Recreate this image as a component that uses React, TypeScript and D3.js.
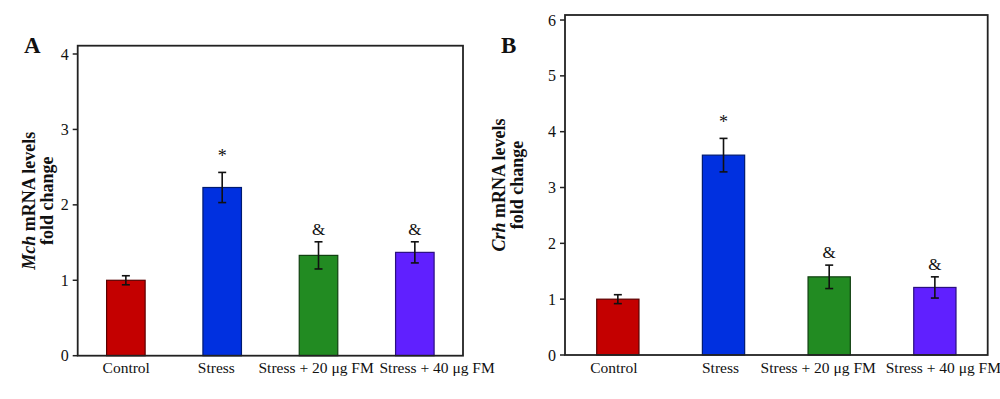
import React from "react";
import * as d3 from "d3";

const categories = ["Control", "Stress", "Stress + 20 μg FM", "Stress + 40 μg FM"];
const colors = ["#c40000", "#0030e0", "#228b22", "#6020ff"];
const strokeColors = ["#5a0000", "#001a70", "#0f3f0f", "#2a0f80"];

const mchValues = [1.0, 2.23, 1.33, 1.37];
const mchErrors = [0.06, 0.2, 0.18, 0.14];
const mchMarks = ["", "*", "&", "&"];
const mchTicks = [0, 1, 2, 3, 4];

const crhValues = [1.0, 3.58, 1.4, 1.21];
const crhErrors = [0.08, 0.3, 0.21, 0.19];
const crhMarks = ["", "*", "&", "&"];
const crhTicks = [0, 1, 2, 3, 4, 5, 6];

const FONT = "'Liberation Serif', 'Times New Roman', serif";

type PanelProps = {
  letter: string;
  letterX: number;
  gene: string;
  values: number[];
  errors: number[];
  marks: string[];
  ticks: number[];
  yMax: number;
  left: number;
  right: number;
  top: number;
  bottom: number;
  titleX: number;
  labelDx: number[];
};

function Panel(p: PanelProps) {
  const x = d3
    .scaleBand<string>()
    .domain(categories)
    .range([p.left, p.right])
    .paddingInner(0.6)
    .paddingOuter(0.3);
  const y = d3.scaleLinear().domain([0, p.yMax]).range([p.bottom, p.top]);
  const bw = x.bandwidth();
  const cy = (p.top + p.bottom) / 2;
  return (
    <g>
      <text x={p.letterX} y={53} fontFamily={FONT} fontWeight="bold" fontSize={23} fill="#111">
        {p.letter}
      </text>
      {/* axis title */}
      <g transform={`translate(${p.titleX},${cy}) rotate(-90)`}>
        <text textAnchor="middle" y={0} fontFamily={FONT} fontWeight="bold" fontSize={18} fill="#111">
          <tspan fontStyle="italic">{p.gene}</tspan>
          <tspan> mRNA levels</tspan>
        </text>
        <text textAnchor="middle" y={18} fontFamily={FONT} fontWeight="bold" fontSize={18} fill="#111">
          fold change
        </text>
      </g>
      {/* bars */}
      {categories.map((c, i) => {
        const x0 = x(c)!;
        const top = y(p.values[i]);
        return (
          <rect
            key={c}
            x={x0}
            y={top}
            width={bw}
            height={y(0) - top}
            fill={colors[i]}
            stroke={strokeColors[i]}
            strokeWidth={1.2}
          />
        );
      })}
      {/* error bars */}
      {categories.map((c, i) => {
        const cx = x(c)! + bw / 2;
        const hi = y(p.values[i] + p.errors[i]);
        const lo = y(p.values[i] - p.errors[i]);
        return (
          <g key={c} stroke="#111" strokeWidth={1.6}>
            <line x1={cx} x2={cx} y1={hi} y2={lo} />
            <line x1={cx - 4} x2={cx + 4} y1={hi} y2={hi} />
            <line x1={cx - 4} x2={cx + 4} y1={lo} y2={lo} />
          </g>
        );
      })}
      {/* significance marks */}
      {categories.map((c, i) => {
        if (!p.marks[i]) return null;
        const cx = x(c)! + bw / 2;
        const hi = y(p.values[i] + p.errors[i]);
        const isStar = p.marks[i] === "*";
        return (
          <text
            key={c}
            x={cx}
            y={isStar ? hi - 10 : hi - 7}
            textAnchor="middle"
            fontFamily={FONT}
            fontSize={isStar ? 18 : 17}
            fill="#111"
          >
            {p.marks[i]}
          </text>
        );
      })}
      {/* frame */}
      <rect
        x={p.left}
        y={p.top}
        width={p.right - p.left}
        height={p.bottom - p.top}
        fill="none"
        stroke="#222"
        strokeWidth={1.8}
      />
      {/* y ticks */}
      {p.ticks.map((t) => (
        <g key={t}>
          <line x1={p.left - 5} x2={p.left} y1={y(t)} y2={y(t)} stroke="#222" strokeWidth={1.5} />
          <text
            x={p.left - 9}
            y={y(t)}
            dy="0.35em"
            textAnchor="end"
            fontFamily={FONT}
            fontSize={16}
            fill="#111"
          >
            {t}
          </text>
        </g>
      ))}
      {/* x labels */}
      {categories.map((c, i) => (
        <text
          key={c}
          x={x(c)! + bw / 2 + p.labelDx[i]}
          y={373}
          textAnchor="middle"
          fontFamily={FONT}
          fontSize={15.5}
          fill="#111"
        >
          {c}
        </text>
      ))}
    </g>
  );
}

export default function App() {
  return (
    <svg
      width={1000}
      height={399}
      style={{ position: "absolute", left: 0, top: 0, background: "#fff" }}
    >
      <rect width={1000} height={399} fill="#fff" />
      <Panel
        letter="A"
        letterX={24}
        gene="Mch"
        values={mchValues}
        errors={mchErrors}
        marks={mchMarks}
        ticks={mchTicks}
        yMax={4.11}
        left={77.7}
        right={463}
        top={45.7}
        bottom={355.7}
        titleX={35}
        labelDx={[0.4, -5.8, -2.4, 22.3]}
      />
      <Panel
        letter="B"
        letterX={501}
        gene="Crh"
        values={crhValues}
        errors={crhErrors}
        marks={crhMarks}
        ticks={crhTicks}
        yMax={6.09}
        left={565}
        right={987.7}
        top={15}
        bottom={355}
        titleX={505}
        labelDx={[-4, -3, -11, 8.5]}
      />
    </svg>
  );
}
